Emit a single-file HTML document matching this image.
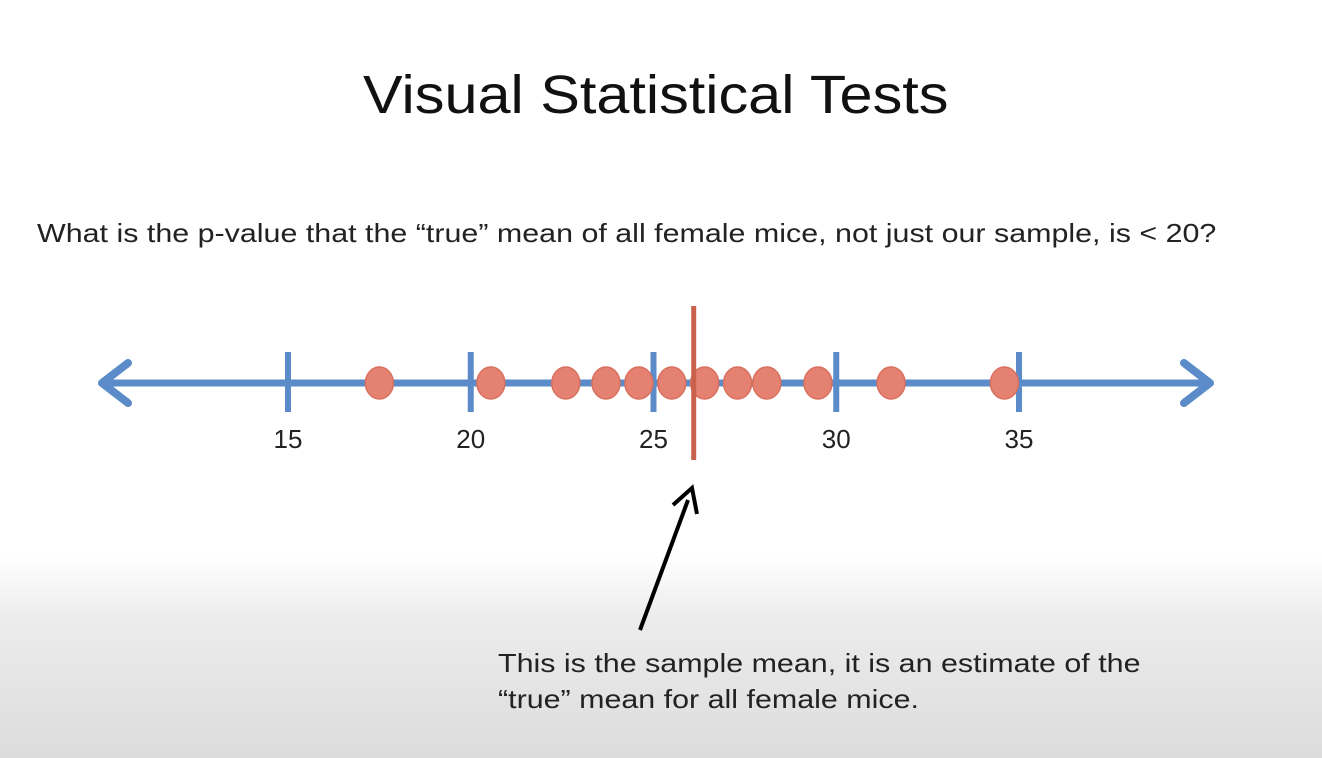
<!DOCTYPE html>
<html><head><meta charset="utf-8">
<style>
html,body{margin:0;padding:0;}
body{width:1322px;height:758px;overflow:hidden;position:relative;font-family:"Liberation Sans","DejaVu Sans",sans-serif;
background:linear-gradient(to bottom,#ffffff 0px,#ffffff 555px,#ececec 620px,#dcdcdc 758px);}
.t{position:absolute;color:#111;white-space:nowrap;transform-origin:0 0;}
</style></head>
<body>
<div class="t" style="left:363px;top:64px;font-size:54px;transform:scaleX(1.1);">Visual Statistical Tests</div>
<div class="t" style="left:37px;top:218px;font-size:26px;color:#222;transform:scaleX(1.17);">What is the p-value that the “true” mean of all female mice, not just our sample, is &lt; 20?</div>
<svg id="chart" width="1322" height="758" style="position:absolute;left:0;top:0">
</svg>
<div class="t" style="left:498px;top:645px;font-size:26px;line-height:36px;color:#222;transform:scaleX(1.17);">This is the sample mean, it is an estimate of the<br>“true” mean for all female mice.</div>
<script>
const ticks=[15,20,25,30,35];
const tickLabels=["15","20","25","30","35"];
const samples=[17.5,20.55,22.6,23.7,24.6,25.5,26.4,27.3,28.1,29.5,31.5,34.6];
const sampleMean=[26.1];
const NS="http://www.w3.org/2000/svg";
const svg=document.getElementById('chart');
const x=v=>288+(v-15)*36.55;
const axisY=383;
function mk(t,a){const e=document.createElementNS(NS,t);for(const k in a)e.setAttribute(k,a[k]);svg.appendChild(e);return e;}
const blue="#5b8cc9";
let l=mk('line',{x1:102,y1:axisY,x2:1210,y2:axisY,stroke:blue,'stroke-width':7});


let a1=mk('polyline',{points:"128,363 102,383 128,403",fill:'none',stroke:blue,'stroke-width':8,'stroke-linecap':'round','stroke-linejoin':'round'});


let a2=mk('polyline',{points:"1184,363 1210,383 1184,403",fill:'none',stroke:blue,'stroke-width':8,'stroke-linecap':'round','stroke-linejoin':'round'});


ticks.forEach((v,i)=>{
  const tk=mk('line',{x1:x(v),y1:352,x2:x(v),y2:412,stroke:blue,'stroke-width':6});
  
  
  const tl=mk('text',{x:x(v),y:448,'text-anchor':'middle','font-size':26,fill:'#222','font-family':'Liberation Sans, sans-serif'});
  tl.textContent=tickLabels[i];
  
  
});
samples.forEach((v,i)=>{
  const c=mk('ellipse',{cx:x(v),cy:axisY,rx:14,ry:16,fill:'#e58170',stroke:'#d9705f','stroke-width':1.5});
  
  
});
sampleMean.forEach(v=>{
  const m=mk('line',{x1:x(v),y1:306,x2:x(v),y2:460,stroke:'#c8614c','stroke-width':5});
  
  
});
const ar=mk('line',{x1:640,y1:630,x2:688,y2:500,stroke:'#000','stroke-width':4});


const ah=mk('polyline',{points:"673,505 692,488 697,514",fill:'none',stroke:'#000','stroke-width':4,'stroke-linejoin':'miter'});


</script>
</body></html>
